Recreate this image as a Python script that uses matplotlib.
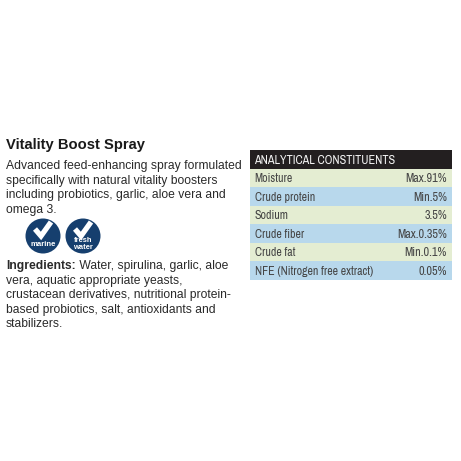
import matplotlib
matplotlib.use('Agg')
import matplotlib.pyplot as plt
from matplotlib.patches import Circle, Rectangle

plt.rcParams['font.family'] = ['Liberation Sans', 'DejaVu Sans']

# texts and table values
title = 'Vitality Boost Spray'
intro = ['Advanced feed-enhancing spray formulated',
         'specifically with natural vitality boosters',
         'including probiotics, garlic, aloe vera and',
         'omega 3.']
ingredients_head = 'Ingredients:'
ingredients_first = ' Water, spirulina, garlic, aloe'
ingredients = ['vera, aquatic appropriate yeasts,',
               'crustacean derivatives, nutritional protein-',
               'based probiotics, salt, antioxidants and',
               'stabilizers.']
table_title = 'ANALYTICAL CONSTITUENTS'
names = ['Moisture', 'Crude protein', 'Sodium', 'Crude fiber', 'Crude fat',
         'NFE (Nitrogen free extract)']
values = ['Max.91%', 'Min.5%', '3.5%', 'Max.0.35%', 'Min.0.1%', '0.05%']
badges = [['marine'], ['fresh', 'water']]

GREEN = '#e4edd2'
BLUE = '#b8d8ec'
NAVY = '#163f6e'
NARROW = ['Archivo Narrow', 'Liberation Sans']
BODY = 8.7

fig = plt.figure(figsize=(4.61, 4.61), dpi=100)
ax = fig.add_axes([0, 0, 1, 1])
# axes in image pixels
ax.set_xlim(0, 461)
ax.set_ylim(461, 0)
ax.axis('off')

ax.text(6, 144.8, title, fontsize=10.6, fontweight='bold', color='#1a1a1a', va='center')

for i, line in enumerate(intro):
    ax.text(6, 166 + i * 14.5, line, fontsize=BODY, color='#2a2a2a', va='center')

# badges
for k, lines in enumerate(badges):
    cx = 43 + k * 40
    cy = 236
    ax.add_patch(Circle((cx, cy), 17.5, color=NAVY, lw=0))
    ax.plot([cx - 8, cx - 2, cx + 8], [cy - 7, cy, cy - 14], color='white', lw=3.8,
            solid_joinstyle='miter', solid_capstyle='butt')
    if len(lines) == 1:
        ax.text(cx, cy + 8.5, lines[0], fontsize=5.6, fontweight='bold', color='white',
                ha='center', va='center')
    else:
        ax.text(cx, cy + 4.5, lines[0], fontsize=5.4, fontweight='bold', color='white',
                ha='center', va='center')
        ax.text(cx, cy + 11, lines[1], fontsize=5.4, fontweight='bold', color='white',
                ha='center', va='center')

head = ax.text(6, 266, ingredients_head, fontsize=BODY, fontweight='bold', color='#2a2a2a',
               va='center')
fig.canvas.draw()
bb = head.get_window_extent().transformed(ax.transData.inverted())
ax.text(bb.x1, 266, ingredients_first, fontsize=BODY, color='#2a2a2a', va='center')
for i, line in enumerate(ingredients):
    ax.text(6, 280.5 + i * 14.5, line, fontsize=BODY, color='#2a2a2a', va='center')

# table
x0, x1 = 249.5, 452
ax.add_patch(Rectangle((x0, 150), x1 - x0, 18.5, color='#231f20', lw=0))
ax.text(254.5, 160.5, table_title, fontsize=8.75, color='#f2f2f2', va='center', family=NARROW)
row_h = 18.55
for i, (name, val) in enumerate(zip(names, values)):
    top = 168.5 + i * row_h
    ax.add_patch(Rectangle((x0, top), x1 - x0, row_h, color=GREEN if i % 2 == 0 else BLUE, lw=0))
    ax.text(254.5, top + row_h / 2 + 1, name, fontsize=8.55, color='#454545', va='center', family=NARROW)
    ax.text(447, top + row_h / 2 + 1, val, fontsize=8.8, color='#454545', va='center', ha='right',
            family=NARROW)

fig.savefig('out.png', dpi=100)
